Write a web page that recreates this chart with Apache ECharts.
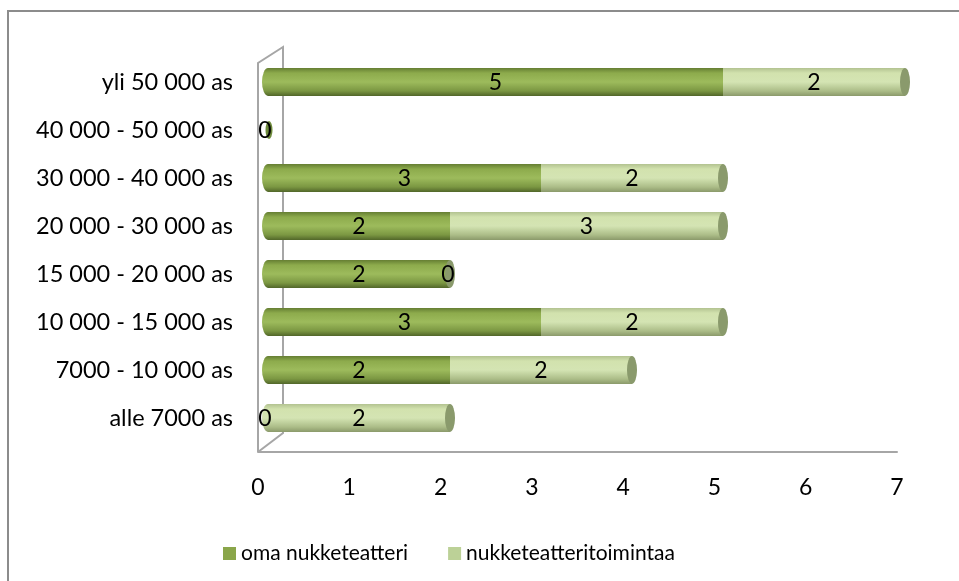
<!DOCTYPE html>
<html>
<head>
<meta charset="utf-8">
<script src="https://cdn.jsdelivr.net/npm/echarts@6/dist/echarts.min.js"></script>
<style>
  html, body { margin: 0; padding: 0; background: #fff; }
  #main { width: 959px; height: 581px; }
</style>
</head>
<body>
<div id="main"></div>
<script>
(function () {
    // data
    var categories = ['yli 50 000 as', '40 000 - 50 000 as', '30 000 - 40 000 as', '20 000 - 30 000 as',
        '15 000 - 20 000 as', '10 000 - 15 000 as', '7000 - 10 000 as', 'alle 7000 as'];
    var omaValues = [5, 0, 3, 2, 2, 3, 2, 0];
    var toimintaValues = [2, null, 2, 3, 0, 2, 2, 2];
    var seriesNames = ['oma nukketeatteri', 'nukketeatteritoimintaa'];
    var xTicks = [0, 1, 2, 3, 4, 5, 6, 7];

    var FONT = 'Lato, "DejaVu Sans", sans-serif';
    var myChart = echarts.init(document.getElementById('main'));

    var darkFill = new echarts.graphic.LinearGradient(0, 0, 0, 1, [
        { offset: 0, color: '#667f33' },
        { offset: 0.18, color: '#8dab4c' },
        { offset: 0.5, color: '#9dbb5c' },
        { offset: 0.82, color: '#7b9742' },
        { offset: 1, color: '#52672a' }
    ]);
    var lightFill = new echarts.graphic.LinearGradient(0, 0, 0, 1, [
        { offset: 0, color: '#b3c391' },
        { offset: 0.18, color: '#d2e2ae' },
        { offset: 0.5, color: '#d4e4b3' },
        { offset: 0.82, color: '#acbd88' },
        { offset: 1, color: '#8b9a6b' }
    ]);

    function segData(vals) {
        var out = [];
        for (var i = 0; i < vals.length; i++) {
            if (vals[i] !== null) out.push([vals[i], i]);
        }
        return out;
    }

    function makeRender(k) {
        return function (params, api) {
            var v = api.value(0);
            var ci = api.value(1);
            var start = k === 0 ? 0 : omaValues[ci];
            var p0 = api.coord([start, ci]);
            var p1 = api.coord([start + v, ci]);
            var h = api.size([0, 1])[1] * 0.58;
            var rx = 5;
            var ry = h / 2;
            var fill = k === 0 ? darkFill : lightFill;
            var capColor = k === 0 ? '#6e8a3c' : '#8a9a6c';
            var children = [];
            var isTop = (k === 1) || (toimintaValues[ci] === null);
            if (v > 0) {
                if (start === 0) {
                    children.push({
                        type: 'circle', x: p0[0], y: p0[1], scaleX: 6 / ry,
                        shape: { cx: 0, cy: 0, r: ry }, style: { fill: fill }
                    });
                }
                children.push({
                    type: 'rect',
                    shape: { x: p0[0], y: p0[1] - ry, width: p1[0] - p0[0], height: h },
                    style: { fill: fill }
                });
            }
            if (isTop) {
                var empty = (start + v) === 0;
                var r = empty ? 9 : ry;
                children.push({
                    type: 'circle', x: p1[0] + (empty ? 1 : 0), y: p1[1], scaleX: (empty ? 3.5 : rx) / r,
                    shape: { cx: 0, cy: 0, r: r }, style: { fill: capColor }
                });
            }
            return { type: 'group', children: children };
        };
    }

    // label positions built from the value arrays
    var labelData = [];
    for (var i = 0; i < categories.length; i++) {
        labelData.push([omaValues[i] / 2, i, omaValues[i]]);
        if (toimintaValues[i] !== null) {
            labelData.push([omaValues[i] + toimintaValues[i] / 2, i, toimintaValues[i]]);
        }
    }

    var option = {
        animation: false,
        backgroundColor: '#fff',
        textStyle: { fontFamily: FONT },
        graphic: [
            {
                type: 'rect', silent: true, z: -10,
                shape: { x: 8, y: 11, width: 1200, height: 800 },
                style: { fill: 'none', stroke: '#8c8c8c', lineWidth: 2 }
            },
            {
                type: 'polyline', silent: true, z: -5,
                shape: { points: [[258, 452], [258, 63], [283, 47], [283, 433], [258, 452]] },
                style: { fill: 'none', stroke: '#a6a6a6', lineWidth: 2 }
            }
        ],
        legend: {
            data: seriesNames,
            left: 218,
            top: 538,
            icon: 'rect',
            itemWidth: 13,
            itemHeight: 13,
            itemGap: 40,
            textStyle: { fontFamily: FONT, fontSize: 21, color: '#000' }
        },
        grid: [
            { left: 268, width: 637, top: 58, height: 384 },
            { left: 258, width: 639, top: 400, height: 52 }
        ],
        xAxis: [
            { gridIndex: 0, type: 'value', min: 0, max: 7, show: false },
            {
                gridIndex: 1, type: 'value', min: 0, max: 7, interval: 1,
                axisLine: { show: true, lineStyle: { color: '#a6a6a6', width: 2 } },
                axisTick: { show: false },
                splitLine: { show: false },
                axisLabel: {
                    margin: 24, fontSize: 23, color: '#000', fontFamily: FONT,
                    formatter: function (v) { return xTicks.indexOf(v) >= 0 ? String(v) : ''; }
                }
            }
        ],
        yAxis: [
            {
                gridIndex: 0, type: 'category', data: categories, inverse: true,
                axisLine: { show: false }, axisTick: { show: false },
                axisLabel: { margin: 35, fontSize: 23.5, color: '#000', fontFamily: FONT }
            },
            { gridIndex: 1, type: 'value', show: false }
        ],
        series: [
            {
                name: seriesNames[0], type: 'custom', xAxisIndex: 0, yAxisIndex: 0,
                itemStyle: { color: '#8aa64a' },
                renderItem: makeRender(0), data: segData(omaValues)
            },
            {
                name: seriesNames[1], type: 'custom', xAxisIndex: 0, yAxisIndex: 0,
                itemStyle: { color: '#bcd197' },
                renderItem: makeRender(1), data: segData(toimintaValues)
            },
            {
                name: 'labels', type: 'custom', xAxisIndex: 0, yAxisIndex: 0, z: 10,
                renderItem: function (params, api) {
                    var p = api.coord([api.value(0), api.value(1)]);
                    var x = p[0];
                    if (api.value(2) === 0 && api.value(0) === 0) x -= 3;
                    else if (api.value(2) === 0) x -= 2;
                    return {
                        type: 'text', x: x, y: p[1] + 1,
                        style: {
                            text: String(api.value(2)), font: '23px ' + FONT, fill: '#000',
                            align: 'center', verticalAlign: 'middle'
                        }
                    };
                },
                data: labelData
            }
        ]
    };

    myChart.setOption(option);
})();
</script>
</body>
</html>
